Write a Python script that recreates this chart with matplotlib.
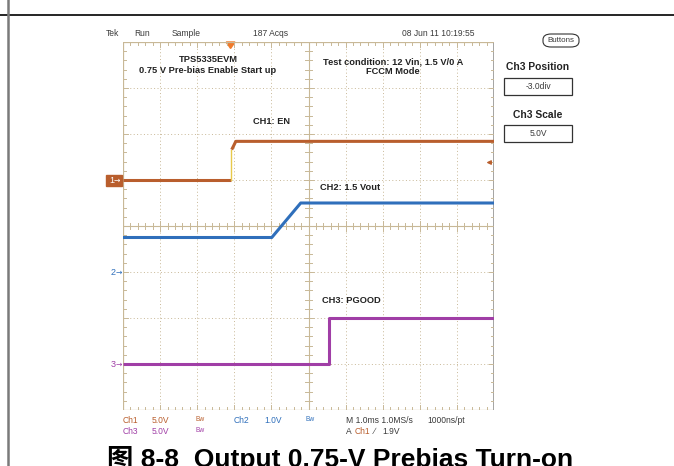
import numpy as np
import matplotlib
matplotlib.use("Agg")
import matplotlib.pyplot as plt
from matplotlib import font_manager
from matplotlib.patches import FancyBboxPatch, Rectangle, Polygon

# ---------------- CAPTURE DATA ----------------
# time in ms relative to the trigger, levels in volts
ch1_time = [-2.9, 0.0]
ch1_level = [0.0, 0.0]
ch1_edge_level = [0.0, 3.3]
ch1_high_time = [0.03, 0.08, 0.14, 7.1]
ch1_high_level = [3.3, 3.7, 4.2, 4.2]

ch2_time = [-2.9, 1.11, 1.89, 7.1]
ch2_level = [0.75, 0.75, 1.5, 1.5]

ch3_time = [-2.9, 2.66, 2.66, 7.1]
ch3_level = [0.0, 0.0, 5.0, 5.0]

# scope settings
ms_per_div = 1.0
trigger_div = 2.9
ch1_scale, ch1_pos = 5.0, 1.0
ch2_scale, ch2_pos = 1.0, -1.0
ch3_scale, ch3_pos = 5.0, -3.0
trigger_level = 1.9

ORANGE = "#b95e2d"
BLUE = "#2f6fbb"
PURPLE = "#a03ea6"
GRID = "#c8b897"
DARK = "#3a3a3a"
ARIAL = ["Liberation Sans", "DejaVu Sans"]

# scope readouts use a narrow face when one is around
names = {f.name for f in font_manager.fontManager.ttflist}
if "Liberation Sans Narrow" in names:
    NARROW, shrink = ["Liberation Sans Narrow"], 1.0
else:
    NARROW, shrink = ARIAL, 0.88

W, H = 674, 466


def fx(x):
    return x / W


def fy(y):
    return 1 - y / H


def to_x(t):
    return trigger_div + np.asarray(t) / ms_per_div


def to_y(v, scale, pos):
    return pos + np.asarray(v) / scale


fig = plt.figure(figsize=(6.74, 4.66), dpi=100)
fig.patch.set_facecolor("white")

# ---------------- PAGE FRAME ----------------
fig.add_artist(plt.Line2D([0, 1], [fy(15), fy(15)], color="black", lw=1.2))
fig.add_artist(plt.Line2D([fx(8), fx(8)], [0, 1], color="#7a7a7a", lw=1.8))

# ---------------- GRATICULE ----------------
ax = fig.add_axes([fx(123), fy(410), (494 - 123) / W, (410 - 42) / H])
ax.set_xlim(0, 10)
ax.set_ylim(-4, 4)
ax.axis("off")

for i in range(1, 10):
    if i != 5:
        ax.plot([i, i], [-4, 4], color=GRID, lw=0.7, ls=(0, (1, 2.5)))
for j in range(-3, 4):
    if j != 0:
        ax.plot([0, 10], [j, j], color=GRID, lw=0.7, ls=(0, (1, 2.5)))

ax.plot([5, 5], [-4, 4], color=GRID, lw=0.8)
ax.plot([0, 10], [0, 0], color=GRID, lw=0.8)
ax.plot([0, 10, 10, 0, 0], [-4, -4, 4, 4, -4], color=GRID, lw=0.9)
ax.plot([10, 10], [-4, 4], color="#8c8c8c", lw=1.8)

for x in np.arange(0, 10.01, 0.2):
    big = abs(x - round(x)) < 1e-6
    h = 0.11 if big else 0.07
    ax.plot([x, x], [-h, h], color=GRID, lw=0.7)
    ax.plot([x, x], [4, 4 - h], color=GRID, lw=0.7)
    ax.plot([x, x], [-4, -4 + h], color=GRID, lw=0.7)
for y in np.arange(-4, 4.01, 0.2):
    big = abs(y - round(y)) < 1e-6
    w = 0.13 if big else 0.09
    ax.plot([5 - w, 5 + w], [y, y], color=GRID, lw=0.7)
    ax.plot([0, w], [y, y], color=GRID, lw=0.7)
    ax.plot([10 - w, 10], [y, y], color=GRID, lw=0.7)

# ---------------- TRACES ----------------
ax.plot(to_x(ch1_time), to_y(ch1_level, ch1_scale, ch1_pos),
        color=ORANGE, lw=2.2, solid_capstyle="butt")
ax.plot(to_x([0.0, 0.0]), to_y(ch1_edge_level, ch1_scale, ch1_pos),
        color="#e8c94a", lw=1.0)
ax.plot(to_x(ch1_high_time), to_y(ch1_high_level, ch1_scale, ch1_pos),
        color=ORANGE, lw=2.2, solid_capstyle="butt")
ax.plot(to_x(ch2_time), to_y(ch2_level, ch2_scale, ch2_pos),
        color=BLUE, lw=2.2, solid_capstyle="butt")
ax.plot(to_x(ch3_time), to_y(ch3_level, ch3_scale, ch3_pos),
        color=PURPLE, lw=2.2, solid_capstyle="butt")

# trigger position and level markers
tx = to_x(0.0)
ax.add_patch(Polygon([[tx - 0.12, 4.0], [tx + 0.12, 4.0], [tx, 3.86]],
                     closed=True, color="#f07a2a", clip_on=False))
ty = to_y(trigger_level, ch1_scale, ch1_pos)
ax.annotate("", xy=(9.72, ty), xytext=(9.97, ty),
            arrowprops=dict(arrowstyle="-|>", color=ORANGE, lw=1.0,
                            mutation_scale=6))

# ---------------- NOTES ON SCREEN ----------------
note = dict(fontsize=6.7, fontweight="bold", family=ARIAL, color="#222222")
fig.text(fx(208), fy(60), "TPS5335EVM", ha="center", va="center", **note)
fig.text(fx(208), fy(70.5), "0.75 V Pre-bias Enable Start up",
         ha="center", va="center", **note)
fig.text(fx(393), fy(62), "Test condition: 12 Vin, 1.5 V/0 A",
         ha="center", va="center", **note)
fig.text(fx(393), fy(72), "FCCM Mode", ha="center", va="center", **note)
fig.text(fx(253), fy(121), "CH1: EN", ha="left", va="center", **note)
fig.text(fx(320), fy(187), "CH2: 1.5 Vout", ha="left", va="center", **note)
fig.text(fx(322), fy(300.5), "CH3: PGOOD", ha="left", va="center", **note)

# channel ground markers
fig.add_artist(Rectangle((fx(106), fy(186.5)), 16 / W, 11.5 / H,
                         color=ORANGE, transform=fig.transFigure))
fig.text(fx(109), fy(180.5), "1", color="white", fontsize=6.5,
         family=NARROW, va="center")
fig.text(fx(114), fy(180.5), "\u2192", color="white", fontsize=5.5,
         family=["DejaVu Sans"], va="center")
fig.text(fx(111), fy(272.5), "2", color=BLUE, fontsize=6.5,
         family=NARROW, va="center")
fig.text(fx(116), fy(272.5), "\u2192", color=BLUE, fontsize=5.5,
         family=["DejaVu Sans"], va="center")
fig.text(fx(111), fy(364.5), "3", color=PURPLE, fontsize=6.5,
         family=NARROW, va="center")
fig.text(fx(116), fy(364.5), "\u2192", color=PURPLE, fontsize=5.5,
         family=["DejaVu Sans"], va="center")

# ---------------- STATUS LINES ----------------
ui = dict(fontsize=7.0 * shrink, family=NARROW, va="center")
fig.text(fx(106), fy(33), "Tek", color=DARK, **ui)
fig.text(fx(134), fy(33), "Run", color=DARK, **ui)
fig.text(fx(172), fy(33), "Sample", color=DARK, **ui)
fig.text(fx(253), fy(33), "187 Acqs", color=DARK, **ui)
fig.text(fx(402), fy(33), "08 Jun 11 10:19:55", color=DARK, **ui)

fig.add_artist(FancyBboxPatch((fx(543), fy(47)), 36 / W, 13 / H,
                              boxstyle="round,pad=0,rounding_size=0.012",
                              fc="white", ec="#333333", lw=0.8,
                              transform=fig.transFigure))
fig.text(fx(561), fy(40.5), "Buttons", color=DARK, ha="center",
         fontsize=6.6 * shrink, family=NARROW, va="center")

side = dict(fontsize=8.4 * shrink, fontweight="bold", family=NARROW,
            color="#222222", ha="center", va="center")
fig.text(fx(538), fy(67), "Ch3 Position", **side)
fig.text(fx(538), fy(115), "Ch3 Scale", **side)
for top, label in [(78, "-3.0div"), (125, "5.0V")]:
    fig.add_artist(Rectangle((fx(504), fy(top + 17)), 68 / W, 17 / H,
                             fc="white", ec="#333333", lw=0.9,
                             transform=fig.transFigure))
    fig.text(fx(538), fy(top + 8.5), label, color=DARK, ha="center",
             fontsize=7.0 * shrink, family=NARROW, va="center")

row1, row2 = 420.5, 431.5
bw = dict(fontsize=5.4 * shrink, family=NARROW, va="center")
fig.text(fx(123), fy(row1), "Ch1", color=ORANGE, **ui)
fig.text(fx(152), fy(row1), "5.0V", color=ORANGE, **ui)
fig.text(fx(195), fy(row1 - 1), "Bw", color=ORANGE, **bw)
fig.text(fx(234), fy(row1), "Ch2", color=BLUE, **ui)
fig.text(fx(264), fy(row1), "1.0V", color=BLUE, **ui)
fig.text(fx(305), fy(row1 - 1), "Bw", color=BLUE, **bw)
fig.text(fx(346), fy(row1), "M 1.0ms 1.0MS/s", color=DARK, **ui)
fig.text(fx(427), fy(row1), "1000ns/pt", color=DARK, **ui)
fig.text(fx(123), fy(row2), "Ch3", color=PURPLE, **ui)
fig.text(fx(152), fy(row2), "5.0V", color=PURPLE, **ui)
fig.text(fx(195), fy(row2 - 1), "Bw", color=PURPLE, **bw)
fig.text(fx(346), fy(row2), "A", color=DARK, **ui)
fig.text(fx(355), fy(row2), "Ch1", color=ORANGE, **ui)
fig.text(fx(374), fy(row2), "\u2215", color=DARK, **ui)
fig.text(fx(382), fy(row2), "1.9V", color=DARK, **ui)

# ---------------- CAPTION ----------------
fig.text(fx(107), fy(467), "图 8-8  Output 0.75-V Prebias Turn-on",
         fontsize=19, fontweight="bold",
         family=["Liberation Sans", "Noto Sans CJK SC"],
         va="baseline", ha="left", color="black")

fig.savefig("out.png", dpi=100)
